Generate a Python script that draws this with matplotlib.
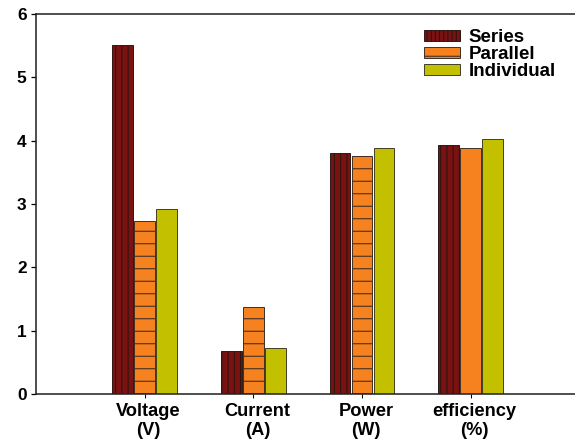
import matplotlib
matplotlib.use("Agg")
import matplotlib.pyplot as plt
import matplotlib.transforms as mtransforms
import numpy as np

categories = ["Voltage\n(V)", "Current\n(A)", "Power\n(W)", "efficiency\n(%)"]
series_names = ["Series", "Parallel", "Individual"]
series_vals = [5.51, 0.68, 3.81, 3.93]
parallel_vals = [2.73, 1.37, 3.76, 3.89]
individual_vals = [2.92, 0.73, 3.89, 4.03]
yticks = [0, 1, 2, 3, 4, 5, 6]

colors = ["#7b1212", "#f5821f", "#c3c000"]
# per-bar hatch patterns (the efficiency "Parallel" bar is drawn plain)
series_hatch = ["||", "||", "||", "||"]
parallel_hatch = ["-", "-", "-", ""]
individual_hatch = ["", "", "", ""]

plt.rcParams["font.family"] = ["Liberation Sans", "DejaVu Sans"]
plt.rcParams["font.weight"] = "bold"
plt.rcParams["hatch.linewidth"] = 1.0

DPI = 75
FS_TICK = 16.5
FS_X = 17.5
FS_LEG = 18
fig = plt.figure(figsize=(575 / DPI, 447 / DPI), dpi=DPI)
ax = fig.add_axes([36 / 575, 53 / 447, 539 / 575, 380 / 447])

x = np.arange(1, len(categories) + 1)
width = 0.19
gap = 0.012
data = [series_vals, parallel_vals, individual_vals]
hatch_sets = [series_hatch, parallel_hatch, individual_hatch]
edge = ["#2a1410", "#3b2a22", "#3b3a22"]
for i, (vals, name) in enumerate(zip(data, series_names)):
    offs = (i - 1) * (width + gap)
    bars = ax.bar(x + offs, vals, width, color=colors[i],
                  edgecolor=edge[i], linewidth=0.9, label=name)
    for b, h in zip(bars, hatch_sets[i]):
        b.set_hatch(h)

ax.set_xlim(0, 4.96)
ax.set_ylim(0, 6)
ax.set_yticks(yticks)
ax.set_xticks(x)
ax.set_xticklabels(categories, fontsize=FS_X, fontweight="bold", linespacing=1.1)
ax.tick_params(axis="y", labelsize=FS_TICK, length=5, width=1.2, pad=4)
ax.tick_params(axis="x", length=4, width=1.0, pad=5)
for lab in ax.get_yticklabels():
    lab.set_fontweight("bold")
shift = mtransforms.ScaledTranslation(4 / DPI, 0, fig.dpi_scale_trans)
for lab in ax.get_xticklabels():
    lab.set_transform(lab.get_transform() + shift)

for s in ["left", "top", "bottom"]:
    ax.spines[s].set_linewidth(1.5)
    ax.spines[s].set_color("#222222")
ax.spines["right"].set_visible(False)

leg = ax.legend(loc="upper right", bbox_to_anchor=(0.985, 0.99), frameon=False,
                prop={"size": FS_LEG, "weight": "bold"}, handlelength=1.9,
                handleheight=0.55, handletextpad=0.45, labelspacing=0.0,
                borderaxespad=0.2)
for h, ht in zip(leg.legend_handles, ["|||", "-", ""]):
    h.set_hatch(ht)

fig.savefig("out.png", dpi=DPI)
